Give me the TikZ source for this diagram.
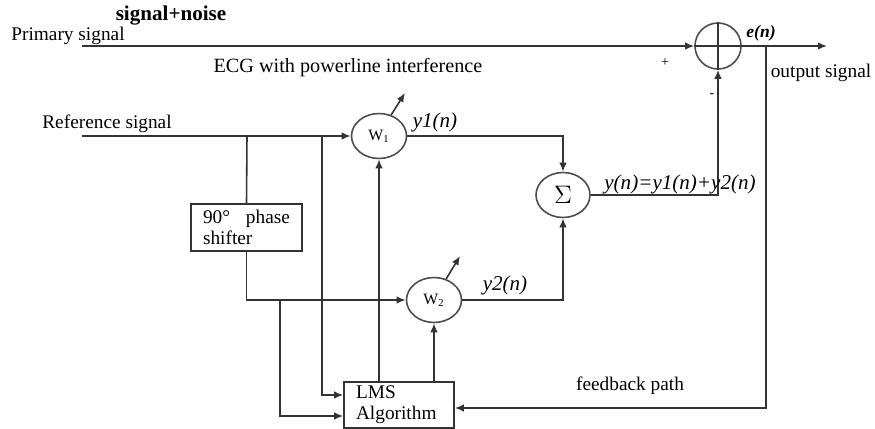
\documentclass[tikz,border=0pt]{standalone}
\usepackage{fontspec}
\setmainfont{Liberation Serif}
\usetikzlibrary{shapes.geometric, arrows.meta, positioning, calc}

\begin{document}
\begin{tikzpicture}[
    x=0.02cm, y=-0.02cm,
    line/.style={draw=black!80, line width=0.9pt},
    sig/.style={line, -{Latex[length=1.8mm, width=1.5mm]}},
    weight/.style={ellipse, draw=black!70, line width=0.9pt,
      minimum width=1.1cm, minimum height=0.9cm, inner sep=0pt,
      font=\fontsize{9}{10}\selectfont},
    summer/.style={weight, minimum width=1.08cm},
    adder/.style={circle, draw=black!70, line width=0.9pt,
      minimum size=0.92cm, inner sep=0pt},
    block/.style={rectangle, draw=black!80, line width=0.9pt,
      align=left, font=\fontsize{11}{12}\selectfont,
      text width=1.74cm, inner xsep=0.24cm, inner ysep=0pt},
    lbl/.style={font=\fontsize{11}{13}\selectfont, inner sep=0pt},
    eqlbl/.style={font=\fontsize{12}{14}\selectfont\itshape, inner sep=0pt},
    signlbl/.style={font=\fontsize{8}{9}\selectfont, inner sep=0pt},
]
\useasboundingbox (0,0) rectangle (875,429);

% ── Blocks ──
\node[adder] (add) at (718,46) {};
\node[weight] (w1) at (379,136) {W\textsubscript{1}};
\node[weight] (w2) at (434,300) {W\textsubscript{2}};
\node[summer] (sum) at (563,195) {\fontsize{15}{17}\selectfont$\Sigma$};
\node[block, minimum height=0.94cm] (phase) at (246.5,227.5)
  {\makebox[1.74cm][l]{90°\hfill phase}\\shifter};
\node[block, minimum height=0.92cm, text width=1.72cm] (lms) at (399,405)
  {LMS\\Algorithm};

% ── Junctions and free ends ──
\coordinate (pin) at (82,46);
\coordinate (out) at (827,46);
\coordinate (tap) at (766,46);
\coordinate (rin) at (82,136);
\coordinate (t1) at (247,136);
\coordinate (t2) at (322,136);
\coordinate (t3) at (280,300);
\coordinate (w1adj) at (405,93);
\coordinate (w2adj) at (460,256);

% ── Primary path ──
\draw[line] (add.north) -- (add.south) (add.west) -- (add.east);
\draw[sig] (pin) -- (add.west);
\draw[sig] (add.east) -- (out);

% ── Reference path ──
\draw[sig] (rin) -- (w1.west);
\draw[line] (t1) -- (phase.north);
\draw[sig] (phase.south) |- (w2.west);
\draw[sig] (t2) |- ($(lms.west)+(0,-10)$);
\draw[sig] (t3) |- ($(lms.west)+(0,11)$);
\draw[sig] (lms.north -| w1.south) -- (w1.south);
\draw[sig] (lms.north -| w2.south) -- (w2.south);
\draw[sig] (w1.60) -- (w1adj);
\draw[sig] (w2.60) -- (w2adj);
\draw[sig] (w1.east) -| (sum.north);
\draw[sig] (w2.east) -| (sum.south);
\draw[sig] (sum.east) -| (add.south);
\draw[sig] (tap) |- ($(lms.east)+(0,3)$);

% ── Labels ──
\node[lbl, font=\fontsize{12}{14}\selectfont\bfseries] (noise) at (171,16)
  {signal+noise};
\node[lbl] (prim) at (68,36) {Primary signal};
\node[lbl, font=\fontsize{11.5}{13}\selectfont] (ecg) at (348,68)
  {ECG with powerline interference};
\node[lbl] (ref) at (107,124) {Reference signal};
\node[lbl] (outlbl) at (821,73) {output signal};
\node[lbl] (fb) at (630,386) {feedback path};
\node[eqlbl] (y1) at (435,122) {y1(n)};
\node[eqlbl] (y2) at (505,285) {y2(n)};
\node[eqlbl] (yn) at (680,184) {y(n)=y1(n)+y2(n)};
\node[eqlbl, font=\fontsize{10}{12}\selectfont\bfseries\itshape] (en)
  at (761,33) {e(n)};
\node[signlbl] (plus) at (665,63) {+};
\node[signlbl] (minus) at (712,96) {-};

\end{tikzpicture}
\end{document}
